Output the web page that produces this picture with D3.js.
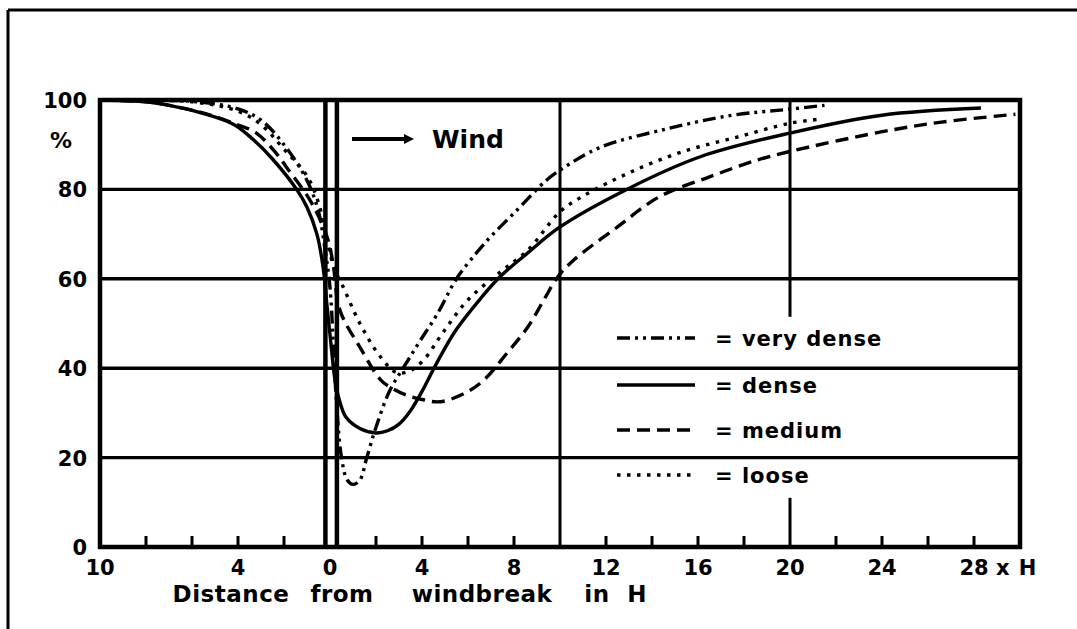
<!DOCTYPE html>
<html>
<head>
<meta charset="utf-8">
<script src="https://cdn.jsdelivr.net/npm/d3@7"></script>
<style>
  html, body { margin: 0; padding: 0; background: #fff; }
  svg { display: block; }
  text { font-family: "DejaVu Sans", sans-serif; font-weight: bold; fill: #000; }
</style>
</head>
<body>
<svg id="chart" width="1077" height="629"></svg>
<script>
// ---------------- data ----------------
const xDomain = [-10, 30];
const yDomain = [0, 100];
const yTickValues = [0, 20, 40, 60, 80, 100];
const xTickValues = [-10, -4, 0, 4, 8, 12, 16, 20, 24, 28];
const xTickLabels = ["10", "4", "0", "4", "8", "12", "16", "20", "24", "28"];
const xMinorTicks = [-8, -6, -4, -2, 2, 4, 6, 8, 12, 14, 16, 18, 22, 24, 26, 28];
const xGridValues = [10, 20];
const gapOnGrid20 = [11, 51.5];          // the x=20 grid line is interrupted behind the legend
const windbreakLines = [-0.2, 0.3];
const seriesNames = ["very dense", "dense", "medium", "loose"];
const xUnitLabel = "x H";
const yUnitLabel = "%";
const xTitleWords = ["Distance", "from", "windbreak", "in", "H"];

const veryDenseX = [-10, -6, -4, -3, -2, -1, -0.5, -0.2, 0, 0.25, 0.5, 0.75, 1.0, 1.3, 1.6, 2.0, 2.6, 3.3, 3.9, 4.65, 5.5, 6.4, 7, 8, 9.4, 10, 11.7, 14.6, 17.5, 19.7, 21.5];
const veryDenseY = [100, 99.7, 98, 95.5, 90, 82, 75, 66, 58, 35, 20, 15, 14, 15, 20, 26.8, 35, 41, 46, 52, 60, 66, 69.5, 74.7, 82, 84.3, 89.3, 93.5, 96.6, 97.8, 98.8];

const denseX = [-10, -8, -7.1, -5.65, -4.2, -3.35, -2.5, -1.45, -1, -0.57, -0.3, -0.15, 0.05, 0.2, 0.4, 0.7, 1.3, 2, 2.5, 3, 3.5, 4, 4.5, 5, 5.5, 6.5, 7.4, 8.6, 10, 12.9, 16.1, 20, 24, 28.3];
const denseY = [100, 99.6, 98.9, 97.2, 94.6, 91.2, 86.8, 80, 76, 70, 62.6, 55, 45, 38, 33, 29, 26.5, 25.5, 26, 27.5, 30.5, 34.8, 39.8, 44.5, 48.7, 55.3, 60.5, 65.8, 71.6, 80, 87.3, 92.6, 96.6, 98.2];

const mediumX = [-10, -8, -7.1, -5.65, -4.2, -3.2, -2.2, -1.9, -0.87, -0.13, 0.13, 0.43, 1.3, 2.2, 2.6, 3.3, 4, 4.8, 5.9, 6.7, 7.7, 8.6, 9.3, 9.9, 10.6, 12.5, 14.3, 16.5, 18.6, 20, 23.9, 26.5, 29.8];
const mediumY = [100, 99.6, 98.9, 97.3, 94.8, 92.6, 87.2, 85, 77.6, 69.4, 63.5, 53, 44.7, 37.4, 35.8, 34, 33, 32.5, 34.5, 37.4, 43.4, 49.2, 55.3, 60.4, 64.2, 71.6, 78.3, 82.8, 86.6, 88.5, 92.8, 95, 96.8];

const looseX = [-10, -6, -4, -3, -2, -1, -0.5, -0.1, 0.2, 0.5, 1.3, 2.2, 2.9, 3.5, 4.1, 4.9, 6, 7.4, 8.6, 10, 11, 13, 15.3, 17.7, 20, 21.3];
const looseY = [100, 99.6, 97.5, 94.5, 89, 83, 77, 68, 62, 59, 50, 42.5, 39, 39.5, 42, 47.9, 55.3, 61.5, 66.4, 75, 78.5, 83.7, 88.4, 91.7, 94.8, 95.7];

const seriesX = [veryDenseX, denseX, mediumX, looseX];
const seriesY = [veryDenseY, denseY, mediumY, looseY];
const seriesDash = ["13,5,3,5,3,5", null, "13,7", "3.5,6.5"];

// ---------------- layout ----------------
const svg = d3.select("#chart");
const L = 100, R = 1020, T = 100, B = 547;
const x = d3.scaleLinear().domain(xDomain).range([L, R]);
const y = d3.scaleLinear().domain(yDomain).range([B, T]);

// outer frame (left and top)
svg.append("line").attr("x1", 8).attr("x2", 8).attr("y1", 10).attr("y2", 629)
  .attr("stroke", "#000").attr("stroke-width", 3);
svg.append("line").attr("x1", 8).attr("x2", 1077).attr("y1", 10).attr("y2", 10)
  .attr("stroke", "#000").attr("stroke-width", 3);

// horizontal grid lines
svg.append("g").selectAll("line").data(yTickValues.filter(v => v > 0 && v < 100)).join("line")
  .attr("x1", L).attr("x2", R).attr("y1", d => y(d)).attr("y2", d => y(d))
  .attr("stroke", "#000").attr("stroke-width", 3.4);

// vertical grid lines
xGridValues.forEach(v => {
  if (v === 20) {
    svg.append("line").attr("x1", x(v)).attr("x2", x(v)).attr("y1", T).attr("y2", y(gapOnGrid20[1]))
      .attr("stroke", "#000").attr("stroke-width", 3);
    svg.append("line").attr("x1", x(v)).attr("x2", x(v)).attr("y1", y(gapOnGrid20[0])).attr("y2", B)
      .attr("stroke", "#000").attr("stroke-width", 3);
  } else {
    svg.append("line").attr("x1", x(v)).attr("x2", x(v)).attr("y1", T).attr("y2", B)
      .attr("stroke", "#000").attr("stroke-width", 3);
  }
});

// windbreak double line
svg.append("g").selectAll("line").data(windbreakLines).join("line")
  .attr("x1", d => x(d)).attr("x2", d => x(d)).attr("y1", T).attr("y2", B)
  .attr("stroke", "#000").attr("stroke-width", 4.5);

// plot frame
svg.append("rect").attr("x", L).attr("y", T).attr("width", R - L).attr("height", B - T)
  .attr("fill", "none").attr("stroke", "#000").attr("stroke-width", 4.5);

// x axis minor ticks (pointing up)
svg.append("g").selectAll("line").data(xMinorTicks).join("line")
  .attr("x1", d => x(d)).attr("x2", d => x(d)).attr("y1", B).attr("y2", B - 11)
  .attr("stroke", "#000").attr("stroke-width", 3);

// curves
svg.append("defs").append("clipPath").attr("id", "clip")
  .append("rect").attr("x", L).attr("y", T - 2).attr("width", R - L).attr("height", B - T + 2);
const line = d3.line().x(d => x(d[0])).y(d => y(d[1])).curve(d3.curveCatmullRom.alpha(0.5));
const curves = svg.append("g").attr("clip-path", "url(#clip)");
seriesNames.forEach((name, i) => {
  const pts = seriesX[i].map((xv, j) => [xv, seriesY[i][j]]);
  const p = curves.append("path").datum(pts).attr("d", line)
    .attr("fill", "none").attr("stroke", "#000").attr("stroke-width", 3.4);
  if (seriesDash[i]) p.attr("stroke-dasharray", seriesDash[i]);
});

// y tick labels
svg.append("g").selectAll("text").data(yTickValues).join("text")
  .attr("x", 87).attr("y", d => y(d) + 8)
  .attr("text-anchor", "end").attr("font-size", 21)
  .text(d => d);
svg.append("text").attr("x", 50).attr("y", 148).attr("font-size", 22).text(yUnitLabel);

// x tick labels
svg.append("g").selectAll("text").data(xTickValues).join("text")
  .attr("x", d => x(d)).attr("y", 575)
  .attr("text-anchor", "middle").attr("font-size", 21)
  .text((d, i) => xTickLabels[i]);
svg.append("text").attr("x", x(28) + 22).attr("y", 575).attr("font-size", 21)
  .attr("word-spacing", 2).text(xUnitLabel);

// x title (wide word spacing as in the original)
const titleCenters = [231, 342, 482, 597, 637];
svg.append("g").selectAll("text").data(xTitleWords).join("text")
  .attr("x", (d, i) => titleCenters[i]).attr("y", 602)
  .attr("text-anchor", "middle").attr("font-size", 23).attr("letter-spacing", 0.5)
  .text(d => d);

// wind arrow
svg.append("line").attr("x1", 352).attr("x2", 408).attr("y1", 139).attr("y2", 139)
  .attr("stroke", "#000").attr("stroke-width", 4);
svg.append("path").attr("d", "M404,134 L414,139 L404,144 Z").attr("fill", "#000");
svg.append("text").attr("x", 432).attr("y", 148).attr("font-size", 25).text("Wind");

// legend
const legY = [338, 385, 430, 475];
const leg = svg.append("g");
seriesNames.forEach((name, i) => {
  const l = leg.append("line").attr("x1", 617).attr("x2", 695).attr("y1", legY[i]).attr("y2", legY[i])
    .attr("stroke", "#000").attr("stroke-width", 3.4);
  if (seriesDash[i]) l.attr("stroke-dasharray", seriesDash[i]);
  leg.append("text").attr("x", 715).attr("y", legY[i] + 8).attr("font-size", 21)
    .attr("letter-spacing", 1).text("= " + name);
});
</script>
</body>
</html>
